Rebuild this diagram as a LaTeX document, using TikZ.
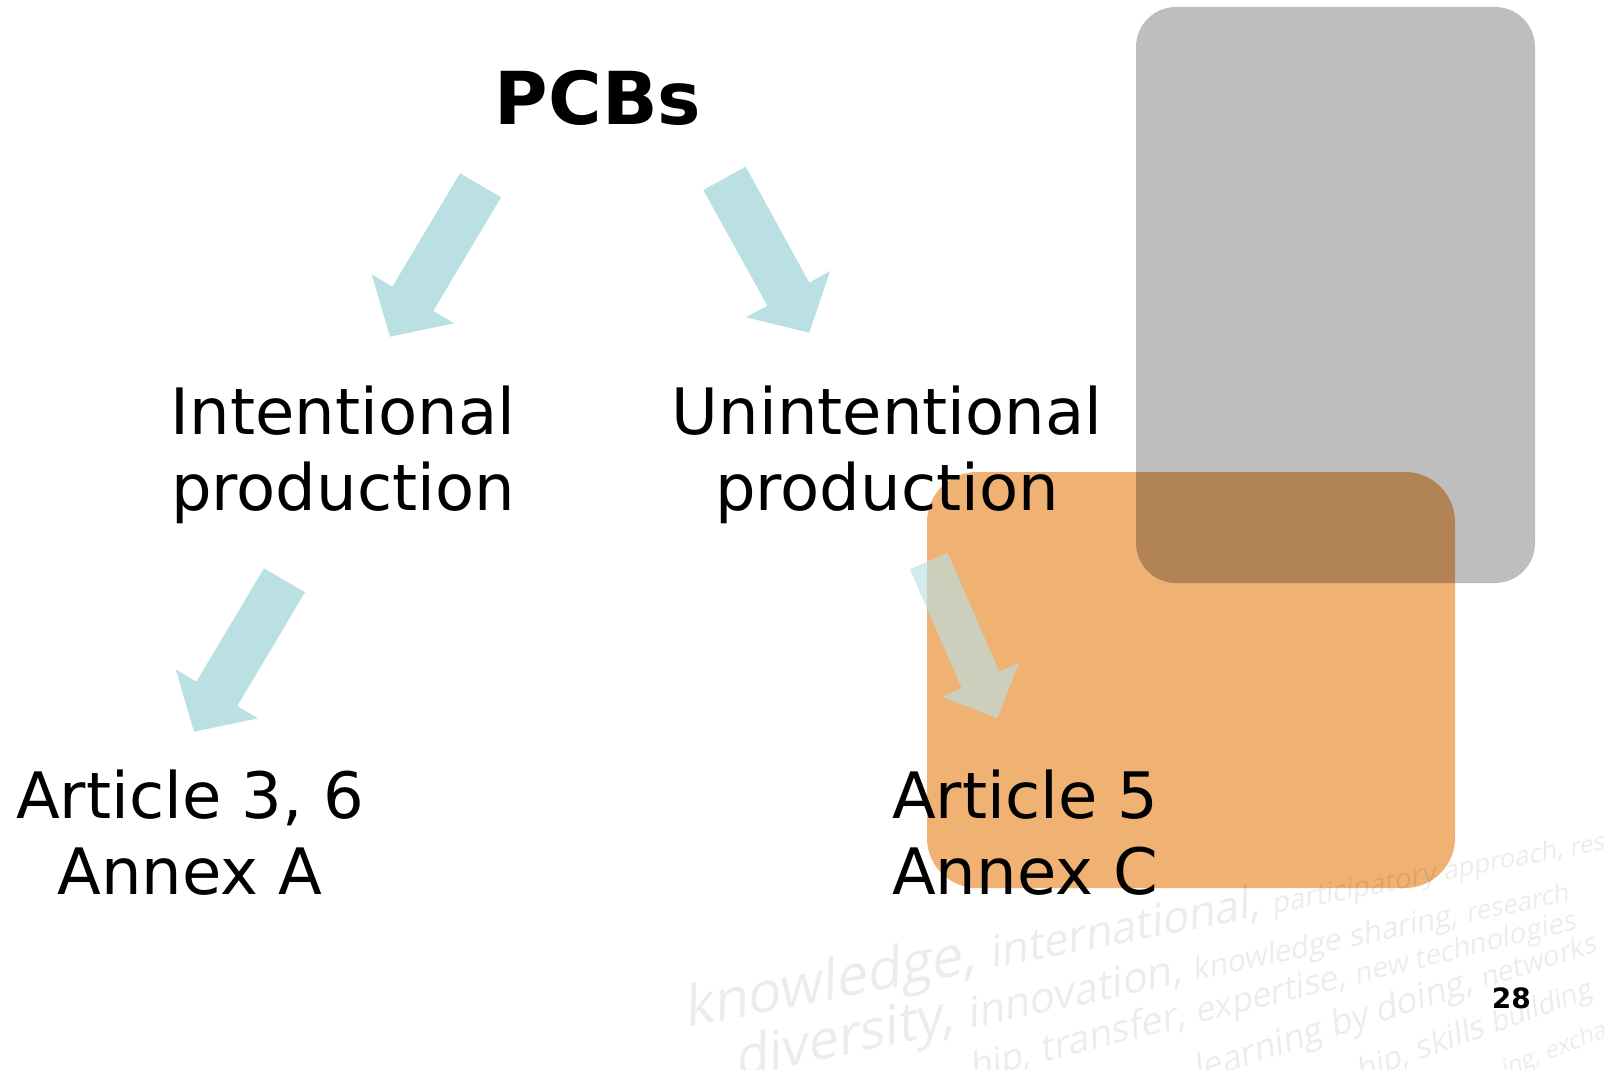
\documentclass[tikz,border=0pt]{standalone}
\usepackage{fontspec}
\newfontfamily\dejavu{DejaVu Sans}
\newfontfamily\wmfont{Open Sans}
\newcommand\wmf[1]{\wmfont\fontsize{#1}{#1}\selectfont}
\newcommand\wsp{\kern0.27em}
\definecolor{arrowblue}{RGB}{186,224,227}
\definecolor{boxgray}{RGB}{190,190,190}
\definecolor{boxorange}{RGB}{239,178,115}
\definecolor{wmgray}{RGB}{236,236,236}
\begin{document}
\begin{tikzpicture}[x=1pt,y=-1pt,
  blockarrow/.style={fill=arrowblue, draw=none},
  lbl/.style={font=\dejavu\fontsize{64}{76}\selectfont, inner sep=0, align=center},
  wm/.style={rotate=#1, xslant=0.22, inner sep=0, anchor=base west, text=wmgray}]
\useasboundingbox (0,0) rectangle (1604,1070);
\clip (0,0) rectangle (1604,1070);

% watermark
\node[wm=11, font=\wmf{56}] (a1) at (686,1028) {knowledge,\wsp};
\node[wm=11, font=\wmf{44}] (a2) at (a1.base east) {international,\wsp};
\node[wm=11, font=\wmf{28}] (a3) at (a2.base east) {participatory\wsp};
\node[wm=11, font=\wmf{26}] (a4) at (a3.base east) {approach,\wsp};
\node[wm=11, font=\wmf{24}] (a5) at (a4.base east) {research};

\node[wm=12, font=\wmf{54}] (b1) at (737,1078) {diversity,\wsp};
\node[wm=12, font=\wmf{42}] (b2) at (b1.base east) {innovation,\wsp};
\node[wm=12, font=\wmf{30}] (b3) at (b2.base east) {knowledge sharing,\wsp};
\node[wm=12, font=\wmf{26}] (b4) at (b3.base east) {research};

\node[wm=14, font=\wmf{36}] (c1) at (972,1080) {hip,\wsp};
\node[wm=14, font=\wmf{38}] (c2) at (c1.base east) {transfer,\wsp};
\node[wm=14, font=\wmf{34}] (c3) at (c2.base east) {expertise,\wsp};
\node[wm=14, font=\wmf{28}] (c4) at (c3.base east) {new technologies};

\node[wm=18, font=\wmf{35}] (d1) at (1197,1082) {learning\wsp};
\node[wm=18, font=\wmf{35}] (d2) at (d1.base east) {by doing,\wsp};
\node[wm=18, font=\wmf{28}] (d3) at (d2.base east) {networks};

\node[wm=20, font=\wmf{31}] (e1) at (1360,1082) {hip,\wsp};
\node[wm=20, font=\wmf{32}] (e2) at (e1.base east) {skills\wsp};
\node[wm=20, font=\wmf{28}] (e3) at (e2.base east) {building};

\node[wm=22, font=\wmf{24}] (f1) at (1504,1078) {ing,\wsp};
\node[wm=22, font=\wmf{24}] (f2) at (f1.base east) {exchange};

% gray box
\fill[boxgray, rounded corners=40] (1136,7) rectangle (1535,583);

% block arrows
\fill[blockarrow] (460,173.3) -- (501,197.3) -- (433.3,311) -- (454,323.3) -- (390,336.7) -- (371.7,274.3) -- (392.3,286.7) -- cycle;
\fill[blockarrow] (703.3,190) -- (745.7,166.7) -- (809.3,282.7) -- (830,271) -- (809.3,332.7) -- (746,317.3) -- (767.3,305.7) -- cycle;
\fill[blockarrow] (264,568.3) -- (305,592.3) -- (237.3,706) -- (258,718.3) -- (194,731.7) -- (175.7,669.3) -- (196.3,681.7) -- cycle;

% texts (base anchor = baseline of the last line)
\node[lbl, font=\dejavu\bfseries\fontsize{73}{80}\selectfont, anchor=base] (pcbs) at (598,125) {PCBs};
\node[lbl, anchor=base] (intent) at (343,510) {Intentional\\production};
\node[lbl, anchor=base] (unintent) at (887,510) {Unintentional\\production};
\node[lbl, anchor=base] (art36) at (190,894) {Article 3, 6\\Annex A};
\node[lbl, align=left, anchor=base west] (art5) at (892,894) {Article 5\\Annex C};
\node[font=\dejavu\bfseries\fontsize{28}{28}\selectfont, inner sep=0, anchor=base east] (pg) at (1531,1008) {28};

% orange box (multiply over what lies beneath)
\fill[boxorange, blend mode=multiply, rounded corners=50] (927,472) rectangle (1455,888);

% arrow inside the orange box
\fill[blockarrow, opacity=0.65] (909.9,569.2) -- (947.5,552.8) -- (999.3,671.6) -- (1019,663) -- (997.3,718.3) -- (942,696.6) -- (961.7,688) -- cycle;
\end{tikzpicture}
\end{document}
